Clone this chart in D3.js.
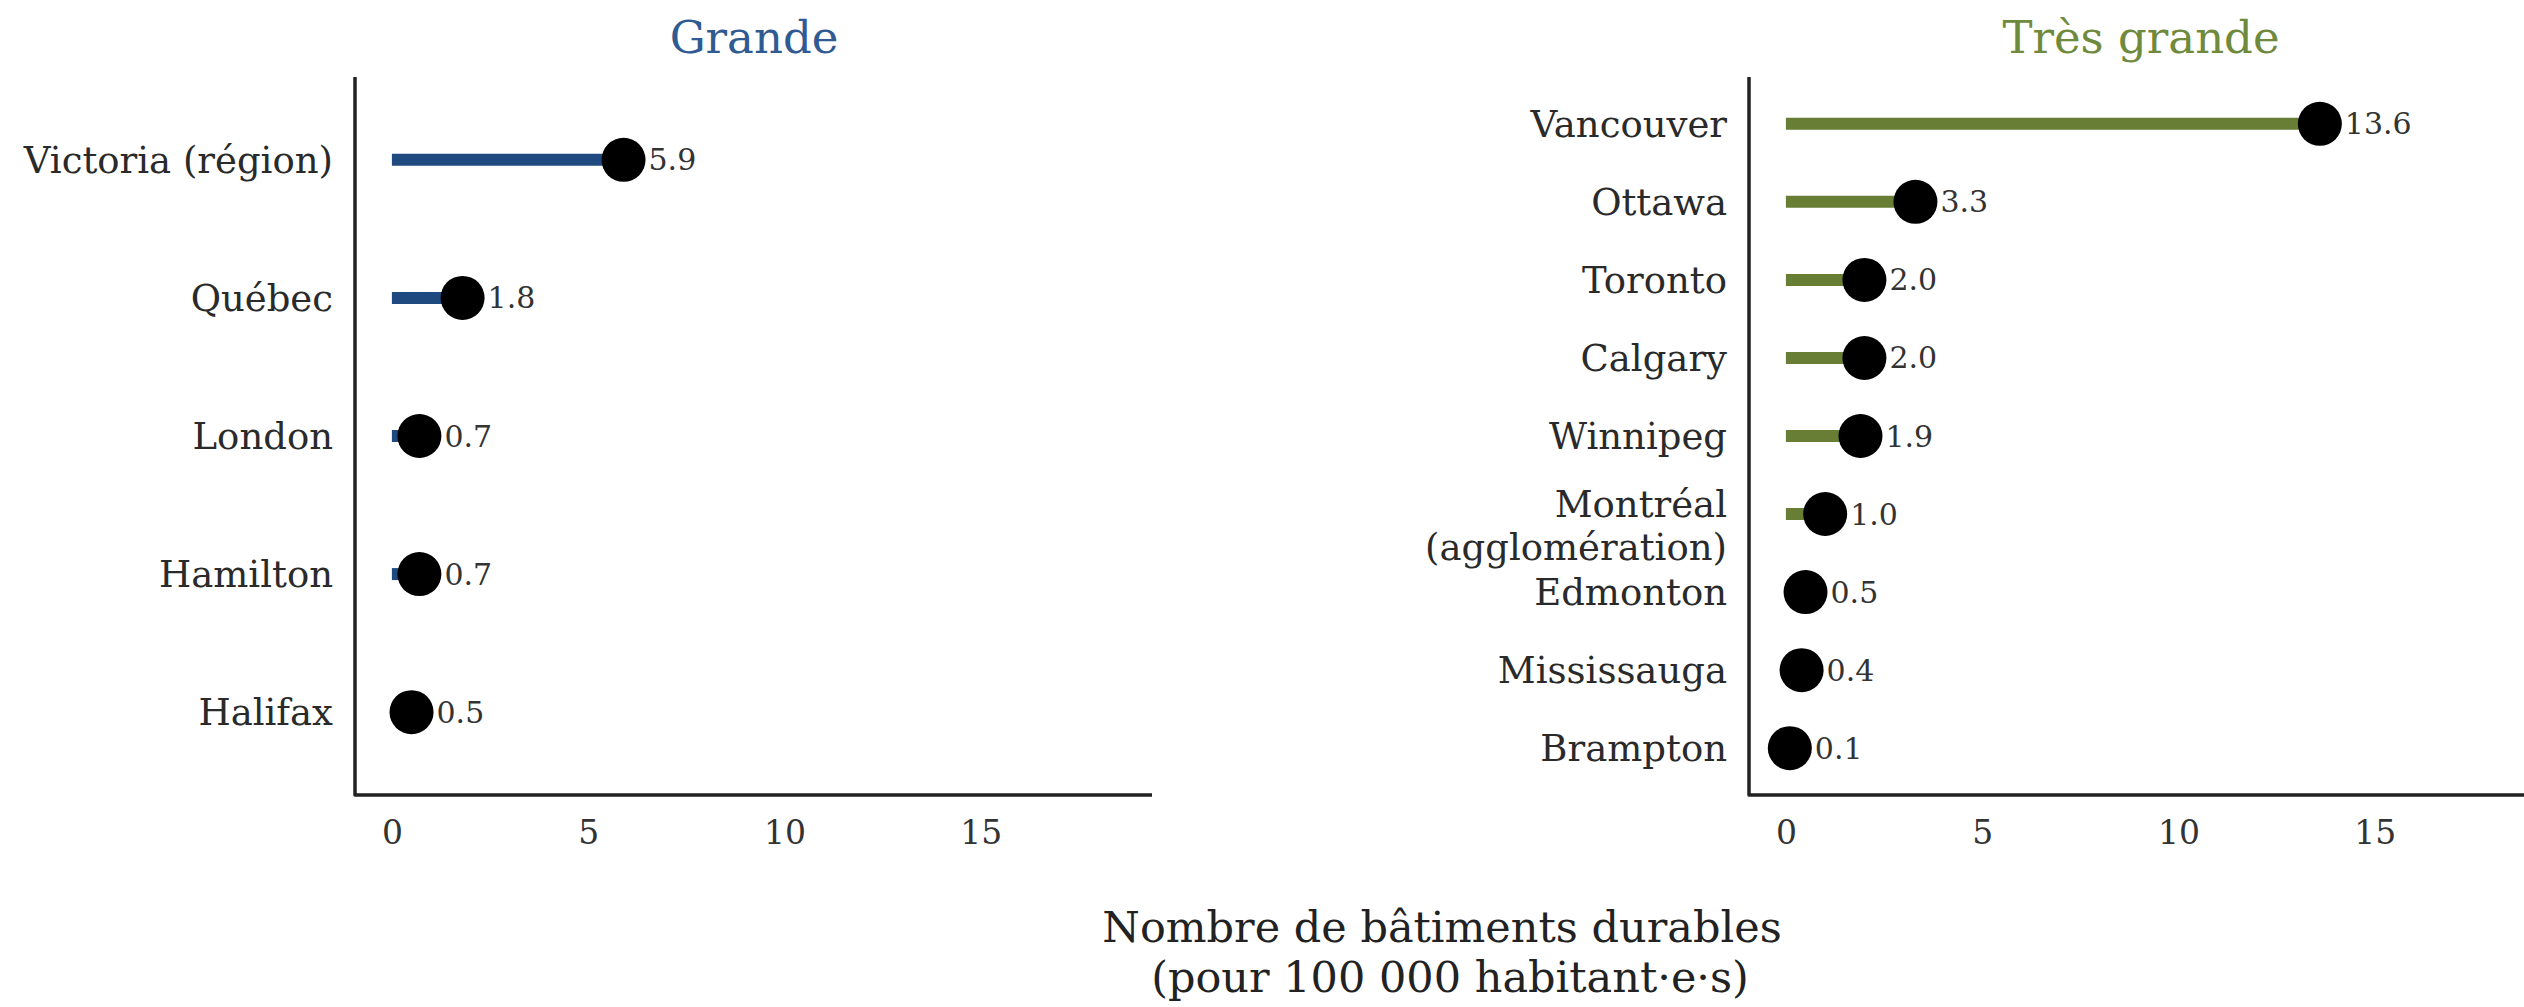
<!DOCTYPE html>
<html>
<head>
<meta charset="utf-8">
<script src="https://cdn.jsdelivr.net/npm/d3@7"></script>
<style>
  html, body { margin: 0; padding: 0; background: #ffffff; }
  svg { display: block; }
  text { font-family: "DejaVu Serif", "Liberation Serif", serif; }
</style>
</head>
<body>
<script>
// ---- Data ----
const grandeCities = ["Victoria (région)", "Québec", "London", "Hamilton", "Halifax"];
const grandeValues = [5.9, 1.8, 0.7, 0.7, 0.5];

const tresGrandeCities = ["Vancouver", "Ottawa", "Toronto", "Calgary", "Winnipeg",
  "Montréal (agglomération)", "Edmonton", "Mississauga", "Brampton"];
const tresGrandeValues = [13.6, 3.3, 2.0, 2.0, 1.9, 1.0, 0.5, 0.4, 0.1];

const xTicks = [0, 5, 10, 15];
const panelTitles = ["Grande", "Très grande"];
const axisTitleLines = ["Nombre de bâtiments durables", "(pour 100 000 habitant·e·s)"];

// ---- Layout ----
const W = 2524, H = 1007;
const xDomain = [-0.94, 19.36];
const plotTop = 77, plotBottom = 795;
const colors = { grande: "#1f4a80", tres: "#687e34", titleG: "#2f5a92", titleT: "#6f8a3c" };

const svg = d3.select("body").append("svg").attr("width", W).attr("height", H);

function panel(cities, values, x0, x1, lineColor, title, titleColor, titleX) {
  const x = d3.scaleLinear().domain(xDomain).range([x0, x1]);
  const y = d3.scalePoint().domain(cities).range([plotTop, plotBottom]).padding(0.6);
  const g = svg.append("g");

  // axis lines
  g.append("path")
    .attr("d", `M${x0},${plotTop}V${plotBottom}H${x1}`)
    .attr("fill", "none").attr("stroke", "#222").attr("stroke-width", 3.5)
    .attr("stroke-linejoin", "round");

  // x tick labels
  const ax = d3.axisBottom(x).tickValues(xTicks).tickSize(0).tickPadding(0).tickFormat(d3.format("d"));
  const axG = g.append("g").attr("transform", `translate(0,${plotBottom + 26})`).call(ax);
  axG.select(".domain").remove();
  axG.selectAll("text").attr("font-size", 33).attr("fill", "#333")
    .attr("font-family", "DejaVu Serif").attr("dy", "0.71em");

  const data = cities.map((c, i) => ({ c, v: values[i] }));

  // stems
  g.selectAll("line.stem").data(data).join("line")
    .attr("class", "stem")
    .attr("x1", x(0)).attr("x2", d => x(d.v))
    .attr("y1", d => y(d.c)).attr("y2", d => y(d.c))
    .attr("stroke", lineColor).attr("stroke-width", 12);

  // dots
  g.selectAll("circle.dot").data(data).join("circle")
    .attr("class", "dot")
    .attr("cx", d => x(d.v)).attr("cy", d => y(d.c)).attr("r", 22)
    .attr("fill", "#000");

  // value labels
  g.selectAll("text.val").data(data).join("text")
    .attr("class", "val")
    .attr("x", d => x(d.v) + 25).attr("y", d => y(d.c)).attr("dy", "0.35em")
    .attr("font-size", 30).attr("fill", "#333")
    .text(d => d3.format(".1f")(d.v));

  // category labels
  const lab = g.selectAll("text.cat").data(data).join("text")
    .attr("class", "cat")
    .attr("x", x0 - 22).attr("y", d => y(d.c))
    .attr("text-anchor", "end").attr("font-size", 37).attr("fill", "#2a2a2a");
  lab.each(function(d) {
    const t = d3.select(this);
    const m = d.c.match(/^(\S+) (\(.*\))$/);
    if (m && d.c.startsWith("Montréal")) {
      t.append("tspan").attr("x", x0 - 22).attr("dy", "0.08em").text(m[1]);
      t.append("tspan").attr("x", x0 - 22).attr("dy", "1.15em").text(m[2]);
    } else {
      t.attr("dy", "0.35em").text(d.c);
    }
  });

  // title
  svg.append("text").attr("x", titleX).attr("y", 53)
    .attr("text-anchor", "middle").attr("font-size", 45).attr("fill", titleColor)
    .text(title);
}

panel(grandeCities, grandeValues, 355, 1152, colors.grande, panelTitles[0], colors.titleG, 754);
panel(tresGrandeCities, tresGrandeValues, 1749, 2546, colors.tres, panelTitles[1], colors.titleT, 2141);

// shared x-axis title
svg.append("text").attr("x", 1442).attr("y", 942).attr("text-anchor", "middle")
  .attr("font-size", 43).attr("fill", "#222").text(axisTitleLines[0]);
svg.append("text").attr("x", 1450).attr("y", 992).attr("text-anchor", "middle")
  .attr("font-size", 43).attr("fill", "#222").text(axisTitleLines[1]);
</script>
</body>
</html>
